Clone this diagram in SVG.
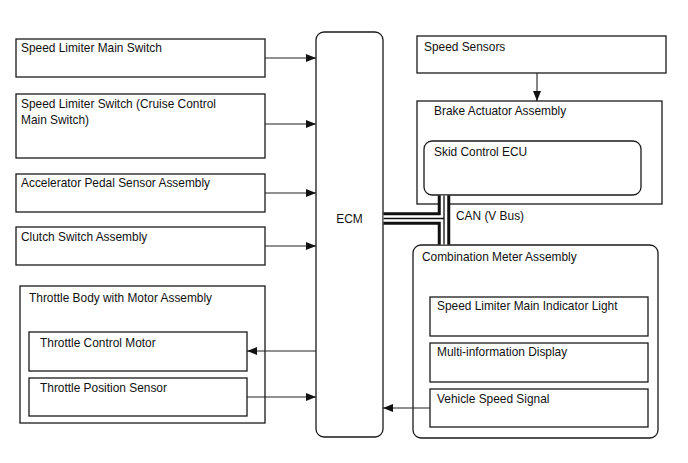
<svg xmlns="http://www.w3.org/2000/svg" width="688" height="463" viewBox="0 0 688 463">
<style>
.b{fill:#fff;stroke:#1a1a1a;stroke-width:1.3}
.t{font-family:"Liberation Sans",Arial,sans-serif;font-size:11.9px;fill:#111}
.c{stroke:#222;stroke-width:1.1;fill:none}
</style>
<defs>
<marker id="ah" viewBox="0 0 10 8" refX="10" refY="4" markerWidth="10" markerHeight="8" markerUnits="userSpaceOnUse" orient="auto">
<path d="M0,0 L10,4 L0,8 Z" fill="#111"/>
</marker>
</defs>
<rect width="688" height="463" fill="#fff"/>
<g id="n-sl-main"><rect class="b" x="16" y="39" width="249" height="38"/><text class="t" x="21" y="52">Speed Limiter Main Switch</text></g>
<g id="n-sl-switch"><rect class="b" x="16" y="94" width="249" height="64"/><text class="t" x="21" y="108">Speed Limiter Switch (Cruise Control</text><text class="t" x="21" y="123.5">Main Switch)</text></g>
<g id="n-accel"><rect class="b" x="16" y="174" width="249" height="38"/><text class="t" x="21" y="187">Accelerator Pedal Sensor Assembly</text></g>
<g id="n-clutch"><rect class="b" x="16" y="227" width="249" height="38"/><text class="t" x="21" y="241">Clutch Switch Assembly</text></g>
<g id="n-throttle"><rect class="b" x="20" y="286" width="245" height="137"/><text class="t" x="29" y="302">Throttle Body with Motor Assembly</text>
<g id="n-tmotor"><rect class="b" x="29" y="332" width="218" height="39"/><text class="t" x="40" y="347">Throttle Control Motor</text></g>
<g id="n-tps"><rect class="b" x="29" y="378" width="218" height="38"/><text class="t" x="40" y="392">Throttle Position Sensor</text></g>
</g>
<g id="n-ecm"><rect class="b" x="316" y="32" width="67" height="405" rx="8"/><text class="t" x="349.5" y="223" text-anchor="middle">ECM</text></g>
<g id="n-speed"><rect class="b" x="417" y="36" width="249" height="37"/><text class="t" x="424" y="51">Speed Sensors</text></g>
<g id="n-brake"><rect class="b" x="417" y="101" width="245" height="103"/><text class="t" x="434" y="115">Brake Actuator Assembly</text>
<g id="n-skid"><rect class="b" x="424" y="141" width="217" height="54" rx="8"/><text class="t" x="434" y="156">Skid Control ECU</text></g>
</g>
<g id="n-combo"><rect class="b" x="413" y="245" width="245" height="193" rx="8"/><text class="t" x="422" y="261">Combination Meter Assembly</text>
<g id="n-light"><rect class="b" x="430" y="297" width="218" height="39"/><text class="t" x="437" y="310">Speed Limiter Main Indicator Light</text></g>
<g id="n-mid"><rect class="b" x="430" y="343" width="218" height="39"/><text class="t" x="437" y="356">Multi-information Display</text></g>
<g id="n-vss"><rect class="b" x="430" y="389" width="218" height="38"/><text class="t" x="437" y="403">Vehicle Speed Signal</text></g>
</g>
<g id="connectors">
<line class="c" x1="265" y1="58" x2="316" y2="58" marker-end="url(#ah)"/>
<line class="c" x1="265" y1="124" x2="316" y2="124" marker-end="url(#ah)"/>
<line class="c" x1="265" y1="193" x2="316" y2="193" marker-end="url(#ah)"/>
<line class="c" x1="265" y1="246" x2="316" y2="246" marker-end="url(#ah)"/>
<line class="c" x1="316" y1="351" x2="247" y2="351" marker-end="url(#ah)"/>
<line class="c" x1="247" y1="397" x2="316" y2="397" marker-end="url(#ah)"/>
<line class="c" x1="430" y1="408" x2="383" y2="408" marker-end="url(#ah)"/>
<line class="c" x1="537" y1="73" x2="537" y2="101" marker-end="url(#ah)"/>
<g id="can-bus">
<path d="M383.5,218.5 H444 M444,195.5 V244.5" stroke="#111" stroke-width="12.5" fill="none"/>
<path d="M383.5,218.5 H444 M444,195.5 V244.5" stroke="#fff" stroke-width="6.5" fill="none"/>
<path d="M383.5,218.5 H444 M444,195.5 V244.5" stroke="#111" stroke-width="1.3" fill="none"/>
</g>
<text class="t" x="456" y="220">CAN (V Bus)</text>
</g>
</svg>
